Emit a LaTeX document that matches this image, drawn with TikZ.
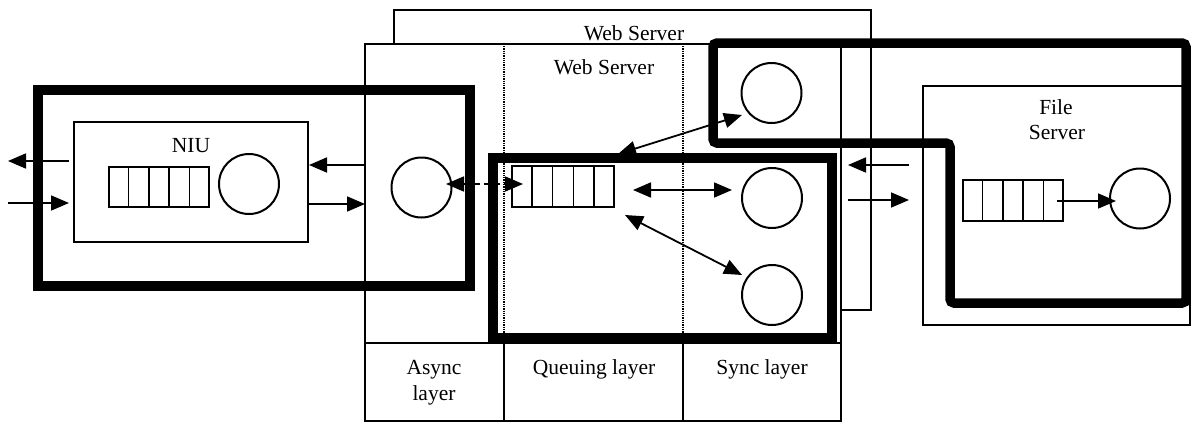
\documentclass[tikz,border=0pt]{standalone}
\usepackage{fontspec}
\setmainfont{Liberation Serif}
\usetikzlibrary{arrows.meta,calc}
\begin{document}
\begin{tikzpicture}[x=1pt,y=-1pt,
  box/.style={draw, line width=1.6pt},
  heavy/.style={draw, line width=9.5pt},
  proc/.style={circle, draw, line width=2pt, minimum size=60pt, inner sep=0pt},
  queue/.style={rectangle, draw, line width=1.7pt, minimum width=100pt, minimum height=40pt, inner sep=0pt},
  arr/.style={line width=1.8pt, -{Triangle[length=18pt,width=15pt]}},
  darr/.style={line width=1.8pt, {Triangle[length=18pt,width=15pt]}-{Triangle[length=18pt,width=15pt]}},
  lbl/.style={font=\fontsize{21.5}{26}\selectfont, inner sep=0pt, anchor=base},
  sep/.style={line width=1.3pt, densely dotted}
]
\useasboundingbox (0,0) rectangle (1191,423);

% back web server
\draw[box] (394,10) rectangle (871,310);
\node[lbl] (wsBack) at (634,40) {Web Server};

% front web server
\draw[box, fill=white] (365,44) rectangle (841,421);
\node[lbl] (wsFront) at (604,74) {Web Server};
\draw[sep] (504,46) -- (504,343);
\draw[sep] (683,46) -- (683,343);
\draw[box] (365,343) -- (841,343);
\draw[box] (504,343) -- (504,421);
\draw[box] (683,343) -- (683,421);
\node[lbl] (asyncL1) at (434,374) {Async};
\node[lbl] (asyncL2) at (434,400) {layer};
\node[lbl] (queL) at (594,374) {Queuing layer};
\node[lbl] (syncL) at (762,374) {Sync layer};

% file server
\draw[box] (923,86) rectangle (1190,325);
\node[lbl] (fsL1) at (1056,114) {File};
\node[lbl] (fsL2) at (1057,139) {Server};

% NIU
\draw[box] (74,122) rectangle (308,242);
\node[lbl] (niuL) at (191,152) {NIU};

% heavy group outlines
\draw[heavy] (38,90) rectangle (470,286);
\draw[heavy] (493,158) rectangle (832,338);
\draw[heavy, rounded corners=4pt] (713,43) -- (1186,43) -- (1186,303) -- (950,303) -- (950,143) -- (713,143) -- cycle;

% processes and queues
\node[proc] (niuP) at (249,184) {};
\node[queue] (niuQ) at (159,187) {};
\node[proc] (async) at (421.5,187.5) {};
\node[queue, minimum width=102pt, minimum height=41pt] (webQ) at (563,186.5) {};
\node[proc] (topP) at (771.5,93) {};
\node[proc] (sync1) at (772,198) {};
\node[proc] (sync2) at (772,295) {};
\node[queue, minimum height=41pt] (fileQ) at (1013,200.5) {};
\node[proc] (fileP) at (1140,198.5) {};
\foreach \q in {niuQ,webQ,fileQ}
  \foreach \i in {1,...,4}
    \draw[line width=1.7pt] ($(\q.north west)!\i/5!(\q.north east)$) -- ($(\q.south west)!\i/5!(\q.south east)$);

% connector end points
\coordinate (extOut) at (8,161);
\coordinate (niuOutL) at (69,161);
\coordinate (extIn) at (8,203);
\coordinate (niuInL) at (69,203);
\coordinate (asyncInR) at (365,165);
\coordinate (niuR1) at (309,165);
\coordinate (niuR2) at (309,204);
\coordinate (asyncOutR) at (365,204);
\coordinate (dashA) at (446,184);
\coordinate (dashB) at (523,184);
\coordinate (upA) at (618,154);
\coordinate (upB) at (742,115);
\coordinate (hA) at (633,190);
\coordinate (hB) at (732,190);
\coordinate (dA) at (625,215);
\coordinate (dB) at (742,275);
\coordinate (wsOut1) at (909,165);
\coordinate (wsIn1) at (848,165);
\coordinate (wsOut2) at (848,200);
\coordinate (wsIn2) at (909,200);
\coordinate (fqA) at (1057,201);
\coordinate (fqB) at (1116,201);

% connectors
\draw[arr] (niuOutL) -- (extOut);
\draw[arr] (extIn) -- (niuInL);
\draw[arr] (asyncInR) -- (niuR1);
\draw[arr] (niuR2) -- (asyncOutR);
\draw[darr, dash pattern=on 6pt off 4pt] (dashA) -- (dashB);
\draw[darr] (upA) -- (upB);
\draw[darr] (hA) -- (hB);
\draw[darr] (dA) -- (dB);
\draw[arr] (wsOut1) -- (wsIn1);
\draw[arr] (wsOut2) -- (wsIn2);
\draw[arr] (fqA) -- (fqB);
\end{tikzpicture}
\end{document}
